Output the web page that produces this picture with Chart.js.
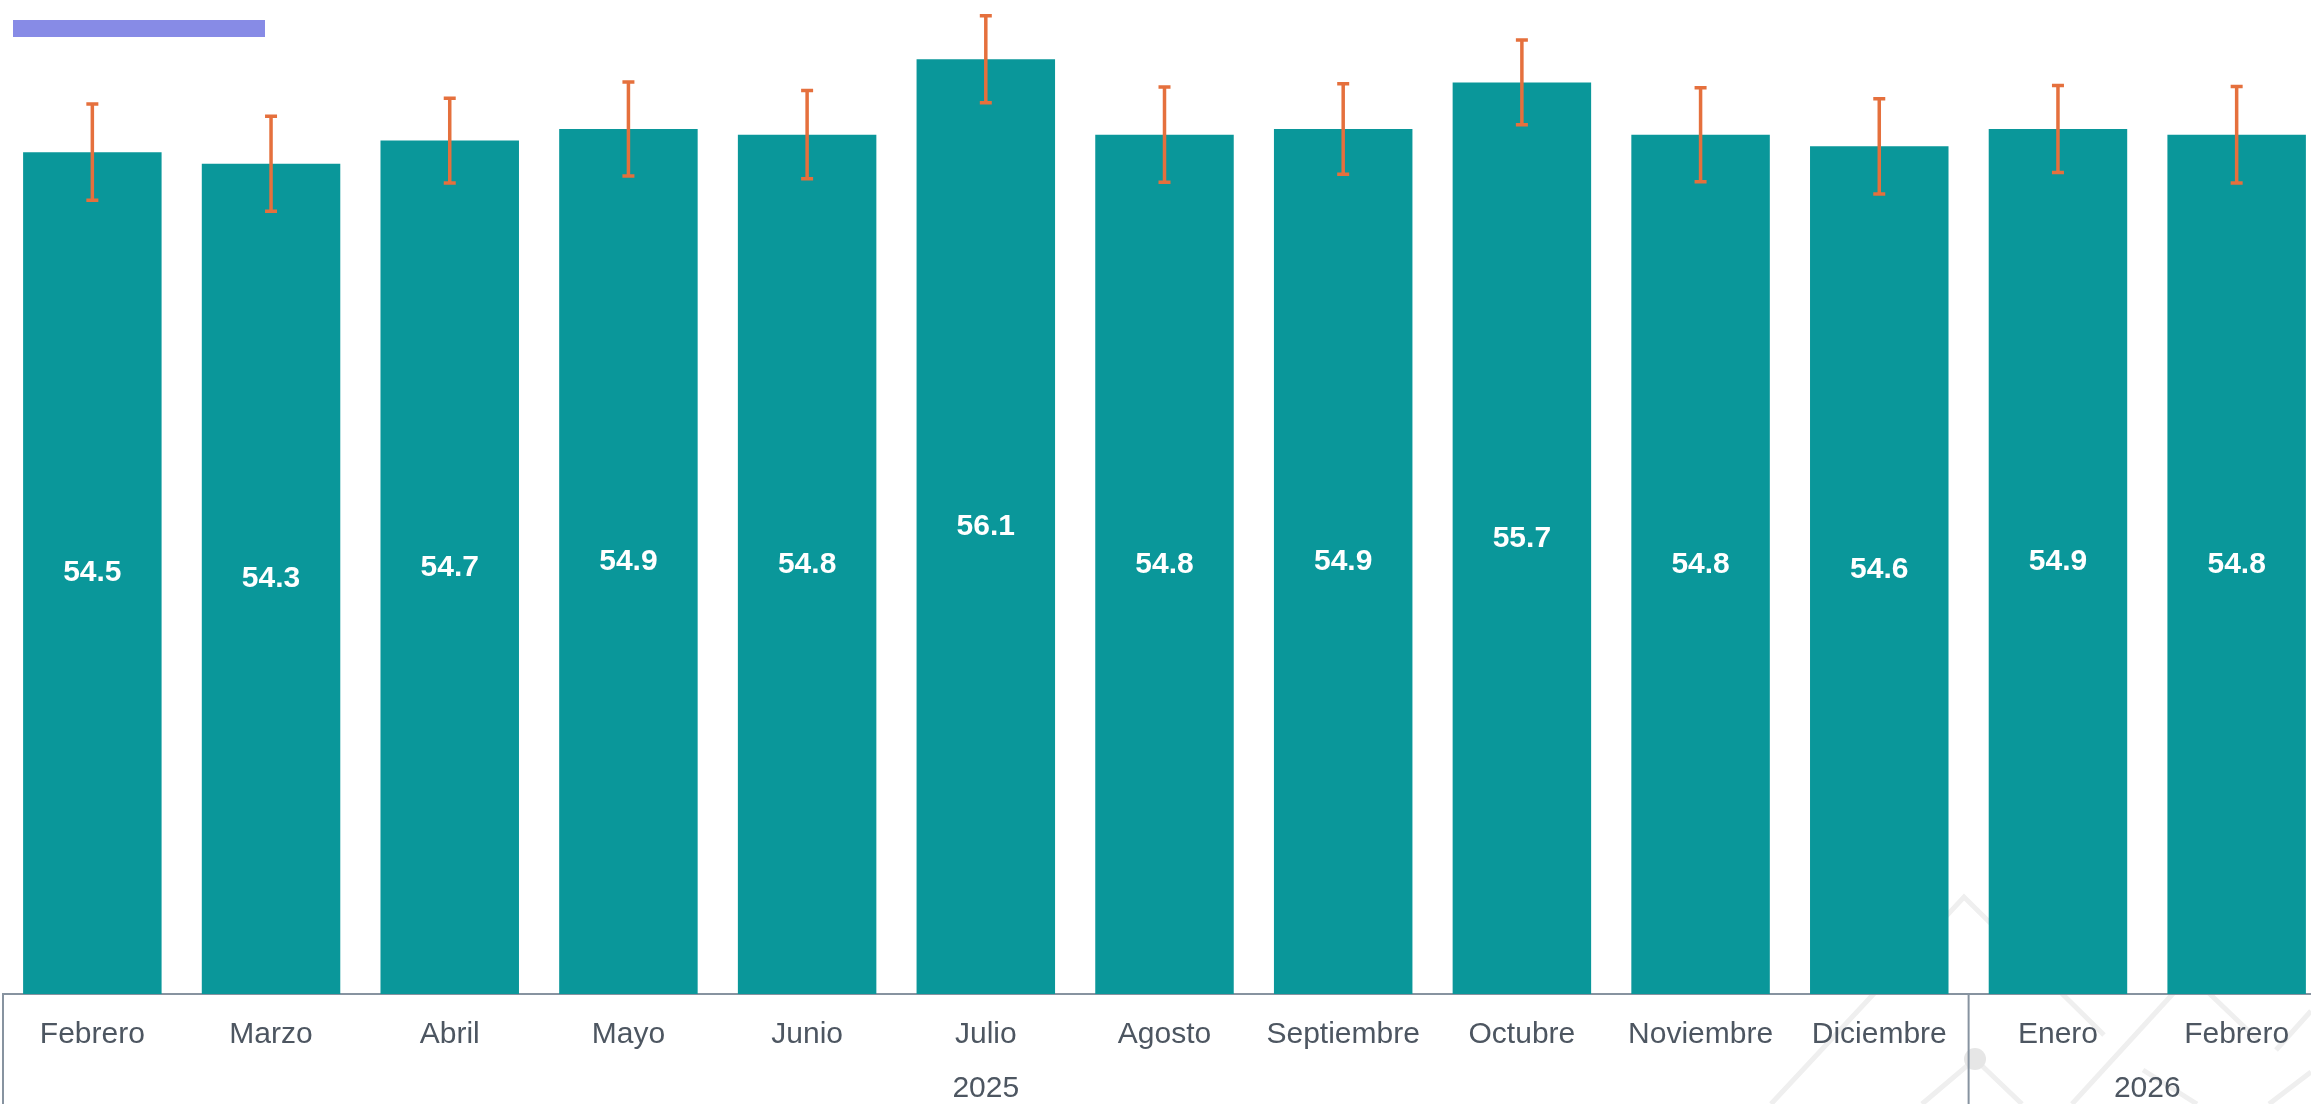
<!DOCTYPE html>
<html lang="es">

<head>
  <meta charset="UTF-8">
  <meta name="viewport" content="width=device-width, initial-scale=1.0">
  <title>Indicador mensual</title>
  <style>
    html, body { margin: 0; padding: 0; background: #fff; overflow: hidden; }
    #contenedor { width: 2326px; height: 1104px; }
  </style>
</head>

<body>
  <div id="contenedor">
    <canvas id="migrafico" width="2326" height="1104"></canvas>
  </div>

  <!-- ChartJS -->
  <script src="https://cdn.jsdelivr.net/npm/chart.js"></script>

  <script>
    // Datos
    const meses = ['Febrero', 'Marzo', 'Abril', 'Mayo', 'Junio', 'Julio', 'Agosto', 'Septiembre', 'Octubre', 'Noviembre', 'Diciembre', 'Enero', 'Febrero'];
    const valores = [54.5, 54.3, 54.7, 54.9, 54.8, 56.1, 54.8, 54.9, 55.7, 54.8, 54.6, 54.9, 54.8];
    const margenError = [0.83, 0.82, 0.73, 0.81, 0.76, 0.75, 0.82, 0.78, 0.73, 0.81, 0.82, 0.75, 0.83];
    const anios = ['2025', '2026'];
    const mesesPorAnio = [11, 2];

    const colorBarra = '#0a979a';
    const colorError = '#e5703d';
    const colorLeyenda = '#878be6';
    const colorEje = '#8793a0';
    const colorTexto = '#4d5661';
    const fuente = "'Liberation Sans', Arial, sans-serif";

    // trazos decorativos del fondo (marca de agua, abajo a la derecha)
    const trazosFondo = [
      [[1771, 1104], [1964, 897], [2104, 1035]],
      [[2072, 1104], [2190, 975]],
      [[2190, 975], [2258, 1040]],
      [[1922, 1104], [1975, 1059], [2022, 1104]],
      [[2143, 1070], [2197, 1104]],
      [[2311, 1011], [2276, 1050]],
      [[2311, 1072], [2269, 1104]]
    ];

    document.addEventListener("DOMContentLoaded", () => {
      const lienzo = document.getElementById("migrafico");

      // fondo decorativo, por debajo de todo
      const fondo = {
        id: 'fondo',
        beforeDraw(chart) {
          const ctx = chart.ctx;
          ctx.save();
          ctx.strokeStyle = '#efefef';
          ctx.lineWidth = 5;
          trazosFondo.forEach(t => {
            ctx.beginPath();
            ctx.moveTo(t[0][0], t[0][1]);
            for (let k = 1; k < t.length; k++) ctx.lineTo(t[k][0], t[k][1]);
            ctx.stroke();
          });
          ctx.fillStyle = '#e6e6e6';
          ctx.beginPath();
          ctx.arc(1975, 1059, 11, 0, Math.PI * 2);
          ctx.fill();
          ctx.restore();
        }
      };

      // barras de error (+/- margen)
      const barrasError = {
        id: 'barrasError',
        afterDatasetsDraw(chart) {
          const ctx = chart.ctx;
          const y = chart.scales.y;
          const meta = chart.getDatasetMeta(0);
          ctx.save();
          ctx.strokeStyle = colorError;
          ctx.lineWidth = 3.5;
          meta.data.forEach((barra, i) => {
            const arriba = y.getPixelForValue(valores[i] + margenError[i]);
            const abajo = y.getPixelForValue(valores[i] - margenError[i]);
            ctx.beginPath();
            ctx.moveTo(barra.x, arriba);
            ctx.lineTo(barra.x, abajo);
            ctx.moveTo(barra.x - 6, arriba);
            ctx.lineTo(barra.x + 6, arriba);
            ctx.moveTo(barra.x - 6, abajo);
            ctx.lineTo(barra.x + 6, abajo);
            ctx.stroke();
          });
          ctx.restore();
        }
      };

      // etiquetas blancas en el centro de cada barra
      const etiquetas = {
        id: 'etiquetas',
        afterDraw(chart) {
          const ctx = chart.ctx;
          const y = chart.scales.y;
          const base = chart.chartArea.bottom;
          ctx.save();
          ctx.fillStyle = '#ffffff';
          ctx.font = "bold 30px " + fuente;
          ctx.textAlign = 'center';
          ctx.textBaseline = 'middle';
          chart.getDatasetMeta(0).data.forEach((barra, i) => {
            const tope = y.getPixelForValue(valores[i]);
            ctx.fillText(valores[i].toFixed(1), barra.x, (tope + base) / 2);
          });
          ctx.restore();
        }
      };

      // años debajo de los meses + lineas separadoras + leyenda
      const grupos = {
        id: 'grupos',
        afterDraw(chart) {
          const ctx = chart.ctx;
          const x = chart.scales.x;
          const area = chart.chartArea;
          const paso = (area.right - area.left) / meses.length;
          ctx.save();
          ctx.strokeStyle = colorEje;
          ctx.lineWidth = 2;
          ctx.fillStyle = colorTexto;
          ctx.font = "30px " + fuente;
          ctx.textAlign = 'center';
          ctx.textBaseline = 'middle';
          let inicio = 0;
          anios.forEach((anio, g) => {
            const fin = inicio + mesesPorAnio[g] - 1;
            const borde = x.getPixelForValue(inicio) - paso / 2;
            ctx.beginPath();
            ctx.moveTo(borde, area.bottom);
            ctx.lineTo(borde, chart.height);
            ctx.stroke();
            const centro = (x.getPixelForValue(inicio) + x.getPixelForValue(fin)) / 2;
            ctx.fillText(anio, centro, 1089);
            inicio = fin + 1;
          });
          // cuadro de leyenda
          ctx.fillStyle = colorLeyenda;
          ctx.fillRect(13, 20, 252, 17);
          ctx.restore();
        }
      };

      const grafico = new Chart(lienzo, {
        type: 'bar',
        data: {
          labels: meses,
          datasets: [{
            label: 'Indicador',
            data: valores,
            backgroundColor: colorBarra,
            borderWidth: 0,
            barPercentage: 0.775,
            categoryPercentage: 1
          }]
        },
        options: {
          responsive: false,
          animation: false,
          layout: {
            padding: { top: 7, left: 3, right: 0, bottom: 0 }
          },
          scales: {
            x: {
              grid: { display: false, drawTicks: false },
              border: { display: true, color: colorEje, width: 2 },
              ticks: {
                color: colorTexto,
                padding: 23,
                maxRotation: 0,
                autoSkip: false,
                font: { family: fuente, size: 30 }
              },
              afterFit(scale) {
                scale.height = 110;
              }
            },
            y: {
              display: false,
              min: 40,
              max: 57
            }
          },
          plugins: {
            legend: { display: false },
            tooltip: { enabled: false }
          }
        },
        plugins: [fondo, barrasError, etiquetas, grupos]
      });
    });
  </script>
</body>

</html>
